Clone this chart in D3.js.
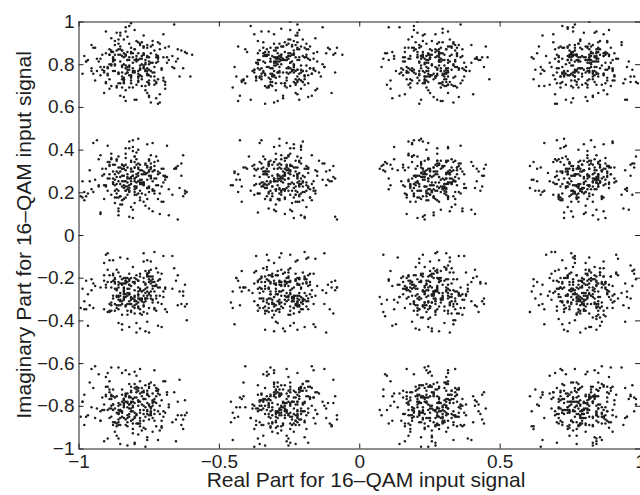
<!DOCTYPE html>
<html>
<head>
<meta charset="utf-8">
<script src="https://cdn.jsdelivr.net/npm/d3@7"></script>
<style>
  body { margin: 0; background: #fff; }
  svg { display: block; }
</style>
</head>
<body>
<svg id="chart" width="640" height="495"></svg>
<script>
// cluster centres of the 16-QAM constellation
var reLevels = [-0.8, -0.265, 0.265, 0.8];   // columns, left to right
var imLevels = [0.8, 0.265, -0.265, -0.8];   // rows, top to bottom

var xTicks = [-1, -0.5, 0, 0.5, 1];
var xTickLabels = ["\u22121", "\u22120.5", "0", "0.5", "1"];
var yTicks = [-1, -0.8, -0.6, -0.4, -0.2, 0, 0.2, 0.4, 0.6, 0.8, 1];
var yTickLabels = ["\u22121", "\u22120.8", "\u22120.6", "\u22120.4", "\u22120.2", "0", "0.2", "0.4", "0.6", "0.8", "1"];

var xLabel = "Real Part for 16\u2013QAM input signal";
var yLabel = "Imaginary Part for 16\u2013QAM input signal";

// received symbols, estimated off the plot, as offsets from the cluster centre:
// 50 = centre, one unit = 0.0064. Values are listed in groups of ten.
var step = 0.0064;

var noiseRe = [
// row 1, col 1
`47 52 36 61 44 58 23 55 41 63 54 38 45 59 72 43 50 67 48 34 41 56 64 49 31 53 28 46 57 37 58 45 33 42 51 76 66 44 39 50
53 46 62 29 44 57 35 48 51 68 42 55 37 49 81 58 63 45 52 36 57 43 26 54 49 65 38 41 56 61 44 59 32 74 52 47 66 40 55 39
38 51 45 67 56 24 43 59 62 47 55 33 48 71 41 53 60 46 36 57 46 62 52 39 27 45 58 63 43 50 35 54 69 42 57 48 78 31 44 51
49 64 53 22 40 57 37 46 55 33 61 44 58 50 39 73 47 52 42 66 52 29 45 36 59 43 63 54 48 34 47 56 41 75 62 53 38 45 57 60
56 41 35 58 47 69 52 26 44 63 43 57 31 48 54 77 61 45 50 38 60 49 54 23 42 36 55 47 67 51 45 39 58 64 43 82 53 34 48 56
42 55 68 37 50 46 28 59 61 44 57 40 46 72 35 53 39 62 48 51 47 33 58 65 44 52 21 49 56 64 53 61 43 37 57 74 46 30 41 55
51 36 44 63 57 42 79 48 55 32 45 58 62 27 50 41 53 39 67 46 59 47 34 52 40 71 56 63 43 38 44 26 55 49 60 54 37 42 58 66`,
// row 1, col 2
`45 59 33 62 48 51 76 40 56 37 53 44 27 58 61 46 50 35 42 64 57 41 66 49 38 52 23 47 55 60 42 54 31 57 68 45 72 49 53 39
50 63 46 38 55 29 41 57 61 44 37 48 52 70 43 59 65 34 46 51 54 62 42 25 58 45 36 50 47 67 61 39 56 43 78 52 48 33 44 57
43 56 68 47 21 54 39 45 52 63 58 34 49 60 55 41 77 46 32 53 47 52 35 64 44 59 28 51 43 62 36 55 42 71 57 48 66 40 54 38
57 42 61 35 46 53 49 26 65 55 44 51 39 57 62 40 36 73 48 56 52 24 47 58 34 61 45 69 53 41 46 60 55 38 43 79 31 50 57 44
39 58 44 51 62 47 22 54 67 41 56 45 63 33 50 42 57 38 75 48 44 53 27 46 60 55 38 64 49 51 59 35 52 43 66 56 45 82 40 37
54 46 37 59 43 65 51 28 48 62 41 57 53 39 47 71 60 44 55 36 63 49 56 42 35 58 29 45 53 61 48 52 74 40 57 34 44 67 51 39
61 47 55 24 43 58 36 52 66 45 35 53 44 68 59 41 57 78 38 49 46 56 63 51 42 37 26 55 48 60 53 42 39 57 47 64 72 45 50 33`,
// row 1, col 3
`56 44 39 62 51 47 25 58 43 66 41 53 67 46 32 55 74 48 59 35 63 49 52 37 45 56 28 40 54 61 47 58 44 36 53 71 60 42 57 33
48 57 64 42 35 53 45 22 59 61 55 38 41 50 68 44 57 79 46 36 42 51 60 56 39 47 26 53 45 64 37 54 49 63 46 58 81 43 55 31
44 61 53 38 46 57 29 65 41 52 59 47 34 54 62 43 51 72 36 48 51 45 66 33 58 42 55 24 47 60 63 40 56 45 37 52 76 49 34 54
53 36 48 60 27 44 56 41 67 55 46 58 63 39 51 42 35 54 78 47 58 43 31 52 46 62 23 57 49 65 42 51 68 34 55 47 73 38 53 44
61 52 45 33 57 49 40 66 26 54 35 44 53 61 47 58 70 42 55 39 47 63 56 41 52 37 21 45 58 64 55 46 32 59 43 57 62 48 77 38
39 55 62 47 53 24 44 58 41 63 52 66 45 37 49 54 75 43 56 34 59 42 48 54 65 38 27 51 45 62 44 57 36 50 61 46 80 53 41 35
47 58 34 51 64 43 28 55 46 60 62 41 53 36 57 45 71 48 33 54 43 56 61 47 39 52 25 58 44 67 50 37 45 63 54 42 74 56 48 31`,
// row 1, col 4
`42 57 61 35 48 53 73 46 55 38 59 44 37 50 66 41 26 54 47 62 51 63 45 56 34 48 79 42 57 39 46 52 68 44 53 31 22 58 41 64
55 46 33 58 62 41 25 49 53 67 44 51 64 39 47 56 72 43 36 58 38 54 47 61 52 43 28 55 45 65 57 40 53 36 49 63 77 45 52 34
47 63 52 44 37 55 80 41 58 34 61 45 39 53 48 66 23 50 56 42 44 57 36 49 62 52 74 46 53 33 51 38 45 60 54 41 27 57 43 67
58 41 46 65 53 36 21 55 44 61 35 56 43 52 67 47 71 59 40 51 53 46 61 38 45 58 26 42 54 63 48 55 32 57 44 69 76 50 41 37
44 54 39 57 63 49 75 52 35 46 56 43 62 47 53 31 24 41 58 64 47 59 45 52 66 37 29 56 43 61 60 48 54 34 42 53 73 45 57 38
53 38 56 42 48 61 27 45 66 55 43 52 34 59 46 63 78 54 40 57 62 45 51 36 57 44 22 49 53 67 35 58 47 55 64 42 71 43 51 39
49 62 44 55 36 53 74 57 41 33 52 40 58 63 47 54 28 45 65 38 56 43 37 48 55 61 76 42 53 64 45 51 66 39 57 43 25 54 46 35`,
// row 2, col 1
`49 53 38 61 44 57 27 50 41 66 58 47 51 35 42 69 74 54 45 39 40 56 63 48 52 33 22 45 59 60 51 44 37 58 48 65 76 53 42 31
55 41 64 48 50 36 78 46 57 39 43 52 30 59 47 61 25 51 44 67 60 49 54 42 38 56 71 45 50 34 47 58 40 53 62 46 21 55 41 68
42 50 59 47 36 63 24 52 45 58 51 46 68 40 57 33 77 49 54 39 48 55 35 50 61 44 29 58 41 64 57 43 52 60 37 49 73 45 51 30
58 45 32 51 48 67 72 43 55 40 46 53 61 49 39 56 20 44 50 65 52 41 47 59 34 62 79 50 43 38 40 57 66 45 53 36 26 48 54 61
47 59 41 63 50 35 23 54 44 56 55 42 37 51 66 48 75 57 40 31 43 50 60 46 58 39 28 52 49 69 61 47 53 38 45 55 77 41 50 34
51 43 67 46 56 38 74 49 53 30 40 58 44 62 50 35 21 47 55 64 59 45 52 33 41 57 27 50 48 63 46 54 36 60 52 43 78 42 57 39
44 56 49 60 38 52 25 45 59 65 53 41 32 57 48 61 76 50 46 37 47 59 63 42 54 36 22 51 40 58 55 48 39 66 43 50 73 56 44 31`,
// row 2, col 2
`46 54 62 39 51 43 78 57 48 33 55 41 37 50 63 47 24 52 58 60 42 57 49 65 44 38 71 53 40 59 50 45 58 36 56 41 26 48 53 67
53 40 47 58 35 61 22 49 56 44 41 55 68 45 52 38 75 50 43 63 59 48 33 54 46 60 27 41 52 37 44 57 62 50 39 53 73 47 58 35
58 46 38 52 43 64 76 50 45 31 47 53 60 41 57 36 20 55 49 66 40 56 51 62 48 33 79 44 59 39 54 42 67 46 50 37 25 57 43 61
43 51 66 48 55 40 23 58 46 62 52 44 35 59 49 63 72 42 50 38 55 47 41 57 60 34 28 50 45 69 48 59 39 53 44 65 77 40 56 36
50 57 34 45 61 47 74 41 53 39 45 49 64 52 38 58 21 47 55 60 51 42 57 33 48 62 26 56 44 40 59 46 52 67 41 36 73 54 50 37
41 52 59 47 37 56 25 50 44 65 58 45 32 54 42 61 78 48 51 39 46 55 63 41 53 38 22 57 49 60 52 40 48 59 66 35 71 43 56 47
56 44 61 40 50 33 77 53 47 58 40 51 47 63 57 39 24 45 52 68 53 48 36 59 41 64 75 50 46 30 47 58 55 42 38 51 29 44 60 62`,
// row 2, col 3
`57 42 50 35 46 64 73 53 48 39 44 58 62 51 40 36 26 55 47 67 50 47 56 41 60 33 77 43 52 38 53 46 39 58 45 61 23 49 57 65
45 53 38 59 50 62 21 41 56 34 58 44 65 47 52 39 76 50 43 60 42 57 49 36 55 63 28 46 51 40 60 48 54 43 37 57 72 45 52 66
52 47 63 44 57 32 78 50 41 59 46 55 37 53 49 68 24 58 44 61 57 40 45 60 51 35 71 48 54 39 41 52 66 47 58 38 25 56 43 62
40 56 48 61 43 37 22 52 59 64 55 47 34 50 63 45 79 42 57 38 47 58 52 39 44 62 27 54 41 67 53 45 60 49 36 56 74 50 46 33
54 41 36 57 48 60 75 46 52 39 43 59 62 44 50 35 20 56 47 65 58 46 41 53 64 38 73 51 45 30 49 55 37 60 42 57 26 44 58 63
48 57 65 42 51 38 28 55 40 61 52 43 39 58 46 66 77 49 54 34 41 50 57 62 47 36 23 53 45 59 56 44 48 35 52 64 71 57 40 60
43 50 59 47 55 33 74 58 45 62 57 46 61 41 37 53 25 44 51 67 50 42 38 56 48 63 78 47 59 36 45 58 54 40 60 49 22 52 43 39`,
// row 2, col 4
`41 55 63 47 52 37 75 50 44 60 56 45 38 59 49 66 22 53 42 34 47 58 51 40 62 35 28 55 48 64 53 43 57 39 50 61 77 46 52 36
58 46 35 53 41 62 24 57 48 39 44 50 67 47 55 38 73 42 59 60 52 41 56 33 47 63 21 50 45 58 40 57 49 65 53 37 76 48 44 61
47 52 61 44 58 36 78 41 55 63 53 48 39 57 42 60 26 50 46 31 43 59 64 49 54 38 72 47 51 37 56 45 34 52 40 66 23 58 49 62
54 42 48 60 37 57 20 53 46 65 41 56 62 44 50 35 79 47 58 38 58 46 39 53 61 43 27 50 55 33 45 51 67 41 56 48 74 44 59 36
43 57 36 50 63 47 71 55 41 59 57 44 51 33 48 62 25 53 46 40 50 42 60 47 38 56 77 45 58 64 52 49 41 57 44 35 22 54 47 68
56 49 64 42 52 38 28 46 58 37 45 53 36 60 41 57 74 50 47 65 54 40 48 61 56 34 20 52 43 59 47 58 55 39 50 63 76 42 51 30
49 53 39 57 45 60 73 41 55 35 52 47 63 43 58 37 26 50 44 67 41 57 50 36 53 64 78 46 59 40 58 43 47 62 55 38 24 52 49 61`,
// row 3, col 1
`50 43 58 36 47 61 24 55 41 63 57 46 39 52 44 66 77 49 54 34 42 53 62 48 56 38 71 45 59 60 54 47 40 57 51 35 26 44 50 67
46 57 35 54 40 62 78 48 52 39 53 41 64 47 58 37 21 55 45 60 59 44 50 33 46 63 27 52 43 57 41 56 49 61 38 53 74 47 58 65
55 42 63 49 57 37 23 44 51 60 43 58 40 55 48 65 72 46 52 31 50 47 36 59 42 61 79 53 45 39 57 44 52 68 47 34 25 56 41 62
41 51 59 45 38 56 76 50 47 64 58 45 33 53 42 60 20 48 55 36 46 57 61 41 54 35 28 50 44 59 52 43 66 48 57 39 73 45 53 40
57 48 39 55 44 63 22 51 42 60 41 53 62 46 57 38 75 50 47 33 55 45 50 64 40 36 24 58 43 67 46 59 37 52 48 61 78 42 56 44
44 56 64 42 50 35 71 47 53 38 52 46 37 59 41 63 26 56 49 60 40 51 56 47 58 33 77 45 52 66 59 43 48 36 55 62 23 50 44 57
53 41 47 60 56 38 79 44 58 65 47 55 61 43 50 34 22 57 42 39 51 48 39 56 45 62 74 41 53 60 43 58 54 67 40 37 27 52 46 55`,
// row 3, col 2
`54 47 37 59 43 62 72 50 45 33 41 56 64 48 53 39 25 58 44 60 57 42 50 36 47 61 78 52 40 55 45 53 48 66 57 35 23 44 51 63
40 52 61 45 57 38 27 54 48 64 58 44 35 51 47 67 74 42 56 39 46 55 59 40 53 33 21 50 43 62 53 47 37 58 41 60 76 49 55 34
51 58 44 62 39 46 79 55 41 36 46 50 60 43 57 32 23 53 48 65 59 41 47 55 63 38 73 45 52 40 42 56 52 37 48 61 26 57 44 68
47 41 55 63 50 36 24 58 45 60 55 48 39 53 42 66 77 47 51 34 43 56 62 49 58 35 28 44 53 39 58 45 50 61 40 57 71 52 46 33
56 44 48 38 53 64 75 41 57 60 42 55 61 47 50 37 20 56 45 67 51 46 35 58 41 62 26 53 48 39 46 59 54 42 57 36 78 49 52 63
43 53 66 50 45 39 22 57 48 61 57 41 37 55 46 63 73 52 43 30 48 58 51 62 44 38 79 40 56 59 52 47 41 57 60 35 25 54 45 64
58 49 40 54 61 43 76 47 52 36 44 57 63 41 53 38 27 51 46 60 55 42 58 35 47 65 72 50 43 39 41 56 47 62 52 37 21 58 45 67`,
// row 3, col 3
`49 51 35 68 42 57 22 50 46 63 58 40 44 52 61 47 76 55 39 31 41 53 64 48 59 30 27 45 50 67 56 43 38 49 52 62 73 44 58 34
52 47 61 39 45 50 78 58 41 36 43 59 54 69 48 33 21 51 46 65 57 42 37 50 49 60 74 53 44 38 40 55 66 47 51 35 25 48 59 62
46 58 32 50 41 64 71 53 49 37 51 44 60 48 56 39 26 42 57 66 38 52 47 55 63 40 29 59 45 61 54 49 36 42 50 67 77 46 53 30
57 40 63 48 52 35 24 44 59 69 47 51 38 42 55 61 72 50 45 34 60 48 53 41 36 58 79 46 51 65 43 56 39 49 54 62 28 41 52 33
42 50 68 45 58 31 75 53 47 60 55 49 34 51 43 66 23 57 40 38 48 54 61 39 46 52 20 41 59 64 51 45 37 57 62 48 76 44 50 35
50 43 36 59 47 62 27 52 41 68 39 58 45 53 64 48 78 42 56 31 53 46 60 44 51 37 73 49 55 33 45 52 65 40 58 38 22 54 47 61
58 47 64 41 52 39 71 45 50 33 44 53 37 59 48 60 25 51 42 67 61 40 49 56 35 54 28 47 52 63 36 57 43 51 45 69 74 48 59 30`,
// row 3, col 4
`47 56 61 38 50 43 28 58 52 65 53 41 36 49 57 68 74 44 59 32 40 55 63 51 45 37 22 48 52 60 58 46 39 54 42 67 77 50 44 35
55 42 34 59 48 62 71 51 46 38 41 57 64 50 44 36 25 53 49 61 59 47 52 31 56 43 79 40 54 66 45 50 60 48 37 53 24 57 42 69
41 53 66 46 58 35 76 49 51 63 57 48 38 52 43 60 20 45 55 34 50 44 62 57 39 47 73 53 41 68 36 56 49 42 59 61 27 52 46 30
59 46 37 51 44 64 23 57 49 60 45 50 69 41 54 33 78 47 52 39 62 51 43 58 36 48 26 55 40 65 53 42 57 46 61 38 72 49 56 31
48 57 63 40 52 36 75 44 59 67 56 43 35 58 49 61 21 51 46 38 42 54 60 47 53 32 77 50 45 64 57 48 39 51 66 44 28 53 41 62
52 44 39 56 61 47 29 50 42 68 47 58 62 45 36 53 74 41 55 33 56 40 49 63 51 37 22 59 46 60 44 51 65 38 57 48 76 43 54 35
43 58 60 49 54 34 73 46 51 37 50 45 38 57 42 66 27 52 48 63 39 53 47 61 56 44 20 58 41 69 55 46 36 50 43 62 78 47 59 32`,
// row 4, col 1
`44 59 62 50 48 35 73 53 41 67 57 46 38 52 43 61 26 55 49 31 48 54 64 40 51 37 21 58 45 60 53 42 36 57 47 66 77 50 44 39
56 41 37 53 49 63 24 58 45 69 42 50 61 47 55 34 79 43 52 38 57 48 33 59 46 62 72 41 54 65 45 51 60 44 58 36 27 49 53 30
49 55 68 42 57 39 76 51 46 32 54 44 36 58 41 64 22 50 47 60 43 56 52 37 63 48 28 55 40 66 58 47 41 52 61 35 74 46 50 38
52 46 34 56 43 60 29 51 48 65 47 57 63 40 53 38 75 44 59 31 55 42 50 61 45 36 20 57 49 67 41 53 59 46 62 37 78 48 54 33
41 58 61 47 50 36 71 45 53 68 59 43 39 55 48 62 23 52 40 34 46 51 63 57 42 35 77 49 56 60 53 44 48 38 59 64 25 41 50 37
57 45 38 51 44 65 26 55 42 61 48 53 60 41 57 33 74 49 46 39 51 40 56 64 47 37 22 58 43 69 44 55 36 52 62 49 76 47 59 31
47 52 63 44 58 34 78 50 41 60 55 45 37 59 49 66 21 53 43 38 42 57 61 48 51 32 73 46 54 65 59 41 50 39 56 63 28 45 52 35`,
// row 4, col 2
`51 44 60 37 55 48 72 42 57 65 45 59 34 53 41 63 27 50 46 38 56 47 68 44 52 39 21 58 41 61 49 53 36 57 43 64 76 47 50 32
43 56 39 58 50 62 25 47 52 36 58 42 65 45 53 31 78 49 55 60 40 51 57 46 37 63 74 44 59 67 54 48 61 41 56 35 23 52 45 38
57 46 63 40 48 35 79 53 44 61 48 54 37 59 42 66 20 51 45 33 53 41 49 62 57 38 28 46 55 64 42 58 52 47 60 36 73 50 43 69
46 52 36 55 61 44 22 58 49 67 53 47 62 40 57 38 77 45 51 34 47 58 33 51 43 60 26 54 40 63 57 41 45 59 50 66 71 48 53 37
52 48 64 43 56 37 75 41 50 60 41 55 39 52 47 68 24 57 46 35 59 44 61 49 53 32 79 45 51 66 45 50 38 56 42 62 27 53 48 36
40 57 50 61 46 34 21 54 47 63 56 43 35 49 59 65 73 51 42 39 48 52 62 41 56 37 28 45 57 60 53 46 67 44 51 38 76 59 41 33
55 42 38 57 48 63 72 46 53 31 44 51 60 45 55 36 25 49 58 68 52 47 39 58 41 64 20 56 43 61 48 57 53 42 50 35 77 45 54 66`,
// row 4, col 3
`48 55 65 42 51 34 24 57 44 62 53 46 38 59 47 61 77 50 43 36 58 41 52 63 45 39 72 49 56 67 44 53 37 51 48 60 26 55 42 33
54 43 36 57 49 64 75 52 45 31 45 58 62 41 55 37 21 50 47 68 51 47 39 56 42 60 28 53 44 65 58 42 63 49 51 38 73 46 57 35
42 57 61 48 53 37 27 55 46 66 57 44 35 52 41 63 78 49 58 30 46 51 64 40 59 36 23 54 43 62 52 48 39 57 45 69 74 41 50 34
56 45 38 51 43 62 76 58 48 33 41 53 66 47 57 35 25 50 44 60 55 42 49 61 52 37 20 46 58 64 48 57 36 43 53 63 77 51 40 39
47 52 63 44 58 36 22 55 41 67 59 48 37 53 45 61 73 42 56 31 43 57 50 62 46 38 79 52 48 60 51 44 65 40 57 35 27 49 54 38
53 46 34 59 42 60 71 47 55 64 46 52 61 43 56 39 26 58 49 36 57 41 38 53 47 66 24 50 45 63 42 55 49 58 61 37 78 44 52 32
45 58 62 41 50 35 75 53 47 68 52 43 36 57 48 64 22 55 41 39 49 56 60 45 53 33 28 42 58 61 56 47 37 52 44 65 72 50 46 34`,
// row 4, col 4
`46 57 39 52 63 44 27 55 48 61 58 42 50 36 47 65 73 53 41 38 43 54 62 49 57 33 78 46 51 66 55 47 35 58 42 60 21 50 45 37
53 45 64 41 50 38 76 57 46 32 47 59 37 52 43 61 24 55 49 68 56 41 51 63 45 36 72 48 54 60 42 55 66 47 58 39 28 44 51 35
58 43 36 55 48 62 20 51 46 67 44 56 61 49 53 34 77 40 57 38 50 47 39 58 42 64 26 53 45 63 57 48 52 41 60 37 74 46 55 31
41 55 63 47 52 35 79 58 43 60 55 48 38 57 41 66 22 50 46 33 47 53 60 44 56 37 75 49 51 65 43 57 36 52 48 61 25 54 40 39
55 42 49 61 44 38 23 57 46 64 48 53 65 43 50 36 78 41 58 31 59 46 37 52 47 60 27 55 42 68 51 44 39 57 63 48 73 45 53 34
44 58 62 40 53 33 71 51 47 66 57 45 36 55 48 60 26 52 43 39 42 56 61 47 51 38 79 44 58 63 49 53 35 46 57 64 22 50 41 37
52 47 38 56 41 65 74 53 49 32 43 55 62 50 46 37 21 58 44 61 56 48 36 59 42 67 27 45 51 60 46 54 63 42 55 38 76 48 57 34`
];

var noiseIm = [
// row 1, col 1
`55 43 61 48 39 27 52 57 44 66 36 50 45 74 58 47 33 53 62 41 64 49 57 31 22 45 54 42 38 59 50 67 44 35 56 48 71 53 60 40
43 58 24 51 65 46 37 54 40 62 52 39 77 45 57 63 48 34 55 41 33 46 55 68 51 44 29 60 47 56 61 53 42 38 73 49 50 36 45 57
57 32 46 53 60 41 25 48 54 67 44 62 56 36 49 51 70 39 43 58 48 55 38 64 43 57 26 52 41 61 35 47 54 63 52 45 80 59 42 37
62 45 51 28 47 56 34 43 69 53 40 57 72 38 55 46 61 49 52 33 54 66 42 37 58 45 23 50 63 48 46 59 31 55 44 78 53 65 41 36
49 53 37 64 58 21 45 61 42 55 59 34 47 60 43 75 52 39 56 48 41 52 27 57 63 46 35 54 67 44 53 38 65 49 57 42 74 36 50 47
36 47 55 59 24 44 62 51 41 68 56 42 33 53 79 48 64 45 57 38 45 61 53 29 50 47 39 66 43 58 52 43 71 46 35 56 60 37 54 44
58 40 63 46 52 32 26 55 47 61 43 54 57 37 82 49 36 51 62 45 60 48 34 56 44 53 22 65 58 41 47 64 39 50 73 42 55 38 45 57`,
// row 1, col 2
`52 38 46 65 57 44 29 61 55 41 47 56 72 39 53 62 44 36 50 43 60 45 53 34 47 25 58 68 41 54 44 51 57 37 63 78 46 52 31 48
48 61 55 42 36 54 23 45 67 59 63 43 51 58 38 47 76 56 41 34 55 49 40 66 52 31 45 57 62 27 37 58 47 53 44 60 71 42 56 35
59 45 33 52 43 62 56 26 47 64 41 54 37 49 74 57 62 45 51 39 44 58 67 53 22 46 36 55 42 61 56 41 48 35 50 79 63 54 33 46
43 57 62 47 35 51 44 81 53 38 58 36 45 65 53 42 28 49 57 60 51 44 34 59 48 63 56 75 40 39 62 24 53 46 41 55 37 58 66 47
55 41 48 57 69 33 21 43 52 64 46 59 52 37 44 61 55 71 40 36 38 50 56 44 62 47 27 53 45 68 53 65 41 46 39 54 57 48 74 32
64 52 39 44 56 27 47 61 53 45 53 40 66 58 34 48 77 45 51 37 47 55 42 63 36 54 58 24 41 60 45 33 59 50 43 62 56 73 38 49
46 54 58 36 41 65 50 23 43 61 57 38 44 52 63 47 75 55 32 49 52 43 37 46 57 68 54 29 61 40 41 56 63 48 55 34 72 44 39 51`,
// row 1, col 3
`57 45 62 34 48 53 77 41 56 38 44 59 36 51 65 47 23 55 42 63 52 40 58 67 46 33 72 45 54 61 38 47 55 43 29 56 62 49 51 35
41 54 37 66 57 44 26 52 48 61 59 46 63 53 35 42 70 55 39 45 46 58 32 55 44 64 21 41 57 53 62 51 47 39 56 73 43 54 36 60
53 62 48 39 45 55 81 43 57 34 37 52 45 60 56 41 28 47 54 68 55 39 47 52 63 43 76 58 31 46 45 57 66 41 50 36 24 53 49 62
46 37 59 54 41 63 25 55 43 57 62 48 53 33 44 56 75 40 51 39 58 61 42 36 53 47 27 56 45 64 41 54 38 52 67 45 72 48 59 35
61 50 43 56 38 47 22 65 54 42 49 57 35 45 62 53 78 44 36 58 43 55 60 39 48 51 74 46 57 33 56 44 52 63 34 41 29 55 47 66
44 58 53 47 66 35 71 51 40 56 55 42 61 38 46 57 23 53 49 34 37 48 56 64 42 54 79 45 59 61 52 36 45 57 43 68 26 50 41 55
56 43 38 62 51 45 28 59 47 54 41 64 55 46 33 52 73 57 44 37 60 47 53 35 56 41 24 49 65 45 48 58 42 54 39 61 77 43 56 36`,
// row 1, col 4
`51 35 58 44 67 45 24 53 41 62 46 57 42 63 55 38 77 48 56 33 59 41 53 66 44 52 21 47 37 60 43 56 48 35 62 54 74 45 51 39
63 47 54 38 43 56 72 41 59 45 55 36 49 52 61 44 26 57 42 65 47 53 34 58 45 62 78 50 39 56 52 41 67 46 57 33 28 55 43 61
45 59 41 52 36 63 29 54 47 58 38 44 57 68 53 46 73 42 55 31 56 48 62 43 51 35 24 57 44 66 41 55 37 60 49 53 76 46 58 34
57 42 66 53 45 34 81 47 55 39 61 50 44 36 56 43 23 58 52 64 43 57 51 38 65 46 72 54 41 59 54 37 46 62 41 55 27 48 56 33
40 56 52 63 47 37 25 59 44 54 53 47 35 58 42 62 75 45 57 36 64 51 45 33 56 48 22 43 55 67 47 58 61 42 53 39 79 52 44 35
55 48 37 56 62 43 71 52 46 64 44 59 53 39 47 57 28 41 63 35 51 42 58 46 36 55 74 49 54 61 38 63 45 57 52 44 26 56 42 66
48 61 53 42 35 57 77 44 56 39 59 45 62 51 43 38 24 54 46 65 45 56 41 64 53 47 73 58 36 52 62 43 55 34 48 57 21 41 53 47`,
// row 2, col 1
`52 46 60 39 57 43 76 48 54 33 45 56 41 64 50 37 23 59 47 68 58 42 51 30 45 62 71 53 40 36 49 55 67 44 52 38 28 46 57 61
41 58 35 53 47 66 24 50 44 62 56 48 69 43 51 34 79 45 58 40 47 54 38 60 42 57 26 52 49 31 60 45 53 36 55 41 74 50 43 64
57 43 50 63 39 48 72 55 46 32 42 51 36 58 45 67 21 53 49 60 51 47 62 40 56 35 78 44 58 39 44 59 31 52 48 65 27 57 41 53
46 55 64 41 52 38 29 49 57 60 59 44 33 50 47 62 73 41 54 37 40 58 48 55 61 36 22 51 45 66 53 42 57 39 50 63 75 47 56 34
50 41 37 56 45 61 77 52 48 35 47 57 63 43 54 39 25 46 51 68 55 44 52 32 49 58 70 42 60 38 41 56 46 65 53 37 23 50 44 59
43 57 52 38 60 47 20 55 41 64 54 46 40 59 50 66 74 48 45 33 48 53 67 44 57 35 28 49 40 62 58 43 36 51 46 60 76 54 52 39
56 48 61 44 35 53 78 41 50 39 41 52 58 47 64 36 26 57 43 55 46 59 34 51 42 63 72 50 55 37 52 44 66 58 38 48 24 45 57 60`,
// row 2, col 2
`48 59 41 55 65 44 22 51 38 57 52 43 61 47 36 54 74 40 56 63 45 50 34 58 42 67 27 53 49 60 57 46 39 52 48 62 76 41 55 33
55 42 63 49 38 53 79 46 57 40 47 56 35 60 44 51 21 52 41 66 50 44 58 39 54 61 73 48 45 32 42 53 68 45 58 37 25 50 47 59
44 57 52 36 48 65 26 41 54 60 59 48 40 53 62 45 72 50 43 34 43 55 60 47 51 38 20 57 46 64 51 41 35 56 45 63 78 49 53 39
52 45 37 58 41 60 75 55 49 33 41 54 66 44 50 39 23 47 57 61 58 49 42 63 46 35 28 52 40 56 46 59 53 38 51 67 71 43 55 48
57 43 49 62 53 35 24 50 46 68 50 58 38 45 61 52 77 42 55 36 40 52 64 57 44 33 73 48 59 47 53 46 41 60 39 55 26 57 44 65
46 50 61 42 57 38 78 53 48 34 55 44 31 59 47 63 22 50 41 56 52 47 57 36 43 60 27 45 54 66 44 58 50 67 53 40 74 48 39 61
51 56 39 48 44 62 21 57 41 60 46 53 64 41 55 37 76 49 58 33 59 42 48 54 35 66 72 50 46 39 48 55 43 57 62 34 29 52 45 58`,
// row 2, col 3
`50 44 58 36 53 61 24 47 55 39 43 57 63 48 41 52 77 45 59 34 55 41 37 50 46 66 29 58 44 60 47 53 61 43 56 38 72 51 49 62
59 47 39 56 44 60 75 50 42 35 52 41 55 62 47 37 22 57 48 68 44 56 64 41 53 33 78 50 45 58 54 43 38 59 49 63 26 46 52 40
45 53 62 48 57 36 21 54 41 64 58 46 33 51 43 61 73 49 56 39 40 52 55 47 60 38 27 57 44 67 51 47 63 55 42 35 76 50 46 58
53 40 47 59 38 62 79 45 56 34 46 54 66 42 50 39 25 58 44 60 57 49 41 53 64 36 72 43 51 48 43 57 52 37 45 61 23 55 40 68
42 58 55 44 61 37 27 52 48 63 55 45 38 57 49 65 74 41 53 31 48 51 59 62 43 35 20 56 46 40 59 44 50 36 54 60 77 47 53 41
56 43 39 52 47 66 73 50 45 37 44 59 61 46 54 34 28 52 40 57 53 47 36 58 42 63 76 49 55 60 46 51 64 41 57 38 24 44 50 62
48 55 63 40 51 36 26 57 43 60 51 42 37 55 46 62 71 48 59 33 45 58 52 39 56 67 23 41 50 44 57 46 40 60 53 35 78 54 47 63`,
// row 2, col 4
`53 47 59 39 45 62 27 51 56 35 46 58 40 54 63 42 76 49 52 37 57 43 36 50 48 66 21 55 41 60 44 52 64 57 38 47 73 50 45 61
48 56 41 60 51 36 78 44 53 65 55 42 62 48 37 57 24 50 46 33 43 59 49 56 40 61 70 47 54 38 58 45 36 52 63 41 26 57 49 60
57 41 52 35 58 47 23 54 45 62 42 50 67 46 55 38 75 53 48 39 52 47 59 43 61 34 28 57 40 55 46 56 39 64 50 44 77 41 53 60
45 53 63 50 41 56 72 47 59 37 58 46 35 55 49 61 22 43 52 66 40 56 48 62 53 38 79 45 51 33 55 43 59 47 36 52 25 58 44 64
51 58 38 44 55 60 26 42 49 63 47 52 57 41 63 36 74 50 45 30 56 44 65 50 38 53 20 58 47 61 43 57 51 39 46 62 78 53 48 35
42 55 47 61 53 39 76 57 44 34 53 45 60 37 50 64 27 41 56 59 48 59 42 55 46 36 73 51 43 67 57 40 54 62 49 38 21 46 52 60
56 44 50 63 40 57 25 49 53 36 44 58 39 52 47 65 71 55 41 62 51 46 61 35 58 43 29 47 56 38 49 53 46 57 42 60 75 44 59 33`,
// row 3, col 1
`46 55 61 41 52 38 25 57 44 64 53 47 36 59 42 60 76 50 45 33 58 42 49 63 55 35 21 47 52 40 44 56 37 50 48 66 73 41 57 59
55 41 38 57 49 63 78 44 51 36 40 52 60 46 57 34 27 53 48 65 47 58 56 39 43 61 72 50 44 37 57 45 51 62 41 38 24 55 49 68
42 57 50 36 58 45 20 52 47 61 59 46 39 54 41 67 74 48 53 33 51 43 62 47 56 37 29 45 58 60 45 53 48 58 35 63 77 40 52 40
58 47 64 43 50 39 73 55 41 60 45 51 35 57 48 62 23 43 59 38 54 40 46 61 52 34 79 57 45 66 41 58 56 37 47 53 26 50 44 63
49 53 37 59 44 61 28 41 56 35 57 45 63 50 38 55 71 46 52 67 43 59 52 36 48 64 22 53 40 57 56 42 47 60 54 39 75 45 51 33
53 45 59 40 57 35 76 49 44 62 44 58 41 53 66 47 25 51 56 39 50 46 38 62 43 55 20 58 47 60 47 52 63 45 59 36 73 42 54 37
41 56 48 63 51 37 24 54 45 58 55 43 62 47 36 59 78 50 41 34 58 47 40 53 61 44 27 46 52 65 52 40 57 38 45 60 72 56 49 43`,
// row 3, col 2
`45 58 52 37 61 43 78 55 48 64 56 41 47 63 50 36 22 53 44 39 42 53 60 45 57 38 75 49 51 33 58 46 54 40 48 66 26 43 57 60
53 46 39 57 44 61 24 50 42 67 47 55 62 40 52 35 71 58 49 37 57 43 50 64 41 59 27 46 53 36 40 58 45 53 63 38 76 51 44 60
41 57 61 48 53 34 73 45 56 39 58 44 36 55 49 60 25 42 51 65 46 52 57 38 62 43 20 55 47 59 54 48 41 66 45 57 79 50 40 33
56 43 50 62 47 37 21 53 58 60 42 57 65 45 54 39 77 48 41 34 53 46 39 57 42 63 74 51 55 36 47 51 60 43 56 35 28 44 59 68
49 55 37 53 41 64 72 46 57 38 55 47 61 42 58 36 24 50 45 60 40 59 52 47 65 33 78 54 43 62 52 43 56 39 49 58 23 57 45 37
44 58 63 41 52 36 26 56 47 61 51 45 38 57 43 62 75 49 54 31 58 42 55 60 46 39 21 50 53 66 43 55 48 64 57 35 73 41 52 40
57 41 46 59 55 38 77 52 44 63 45 53 60 48 37 56 22 43 58 67 50 46 41 54 61 34 27 57 49 40 56 44 52 38 47 62 74 45 59 35`,
// row 3, col 3
`53 41 60 48 37 51 77 45 58 34 46 55 68 40 52 39 24 57 49 62 50 44 33 59 48 65 72 42 54 38 61 47 52 36 45 57 21 50 43 66
45 59 38 51 64 42 26 53 48 60 57 41 50 35 47 63 75 44 52 31 42 56 61 49 39 52 78 46 58 67 37 51 45 58 62 40 29 54 47 33
60 48 52 34 43 57 23 41 55 69 51 46 39 58 42 65 71 50 44 36 47 53 30 45 59 62 26 51 40 64 55 42 48 61 37 50 76 43 56 39
41 55 66 47 50 38 79 52 44 31 63 49 54 43 35 57 22 46 51 60 56 40 45 53 67 39 73 48 58 34 50 44 59 37 48 62 27 55 42 65
52 46 35 59 61 43 74 50 47 68 44 57 48 32 53 40 28 55 63 38 59 41 51 64 46 36 20 49 54 60 42 53 67 45 39 56 77 47 51 33
48 58 62 42 51 37 25 54 45 64 55 43 36 50 60 47 72 41 57 39 44 52 57 46 34 63 78 50 40 61 58 47 41 53 66 38 23 49 55 35
57 42 49 61 45 53 76 40 51 36 48 59 65 44 38 50 21 56 46 62 53 45 37 58 60 41 29 52 47 68 43 54 50 39 57 64 75 46 59 31`,
// row 3, col 4
`58 45 33 52 47 64 26 50 41 61 44 53 60 48 57 39 77 46 51 67 55 42 38 59 49 63 71 43 54 36 40 57 52 46 62 35 24 51 48 65
49 55 62 43 51 37 79 46 58 32 57 40 48 53 36 61 22 55 44 68 42 50 59 47 64 38 25 52 45 60 53 46 34 57 41 63 74 49 56 39
54 41 36 58 45 60 23 51 47 66 46 57 63 42 53 35 76 48 50 38 59 44 52 61 40 37 28 56 43 64 47 52 68 49 55 31 72 41 58 33
42 56 64 48 53 39 75 50 45 30 55 47 37 51 43 62 21 58 49 66 48 53 60 44 57 36 78 41 52 34 56 40 45 59 50 65 27 54 46 61
51 46 38 57 62 43 20 55 48 67 43 58 61 50 47 34 73 52 41 39 57 45 49 63 54 36 29 46 51 60 40 53 66 42 59 37 75 48 56 32
46 52 60 41 55 35 77 49 57 63 58 44 39 53 48 66 24 50 42 31 45 56 62 47 41 38 71 53 59 64 52 47 36 55 44 61 26 57 43 69
56 43 49 60 46 33 28 54 41 65 47 55 62 44 51 37 74 42 58 39 50 48 35 56 62 45 22 59 43 67 41 52 57 63 47 38 79 46 53 30`,
// row 4, col 1
`50 43 61 56 39 47 24 53 45 68 46 58 35 51 63 42 76 49 55 30 57 41 52 60 44 37 72 48 53 64 42 55 38 59 47 62 27 51 46 33
43 57 36 49 65 52 78 41 55 61 58 45 62 50 38 46 22 53 42 34 49 52 60 44 57 39 25 46 51 67 55 40 48 63 53 35 73 58 44 31
58 47 52 38 43 64 21 56 49 60 41 55 66 47 50 36 75 44 53 32 53 42 37 58 46 61 79 50 45 68 47 51 57 40 54 39 26 43 59 63
46 54 63 41 57 33 74 52 48 37 55 49 39 56 44 62 28 47 51 69 42 58 50 45 61 36 23 55 40 60 57 43 64 51 47 38 77 49 53 35
52 41 38 57 45 60 26 50 47 66 44 56 63 42 53 35 71 48 58 31 59 46 51 64 40 37 20 54 43 62 49 53 36 45 58 67 78 41 55 39
47 59 62 43 52 34 77 55 41 65 56 48 37 50 44 61 24 53 46 38 45 51 60 57 49 32 73 42 58 63 51 44 39 54 47 68 29 57 40 36
54 45 36 59 48 61 25 51 43 64 42 53 68 46 57 39 76 50 45 33 56 47 40 52 63 35 22 59 44 60 48 55 62 41 53 37 74 46 50 66`,
// row 4, col 2
`45 58 52 36 61 47 77 54 41 63 55 42 64 48 37 51 23 57 46 30 49 53 39 59 44 67 26 50 45 60 57 41 48 62 52 38 74 43 56 35
56 43 61 47 52 39 21 55 48 68 41 57 36 53 46 62 78 50 44 33 58 45 52 64 40 37 72 47 53 60 44 51 65 49 57 34 28 42 59 38
48 54 35 58 43 60 76 52 46 67 53 47 63 41 56 38 24 59 50 32 42 55 49 61 47 36 79 51 44 64 59 46 40 53 57 66 22 48 52 37
52 47 64 44 50 37 27 57 41 62 46 55 39 51 58 33 75 43 54 69 55 40 47 57 62 36 20 52 49 61 41 53 58 45 50 38 73 56 46 65
43 59 37 52 47 66 71 49 55 31 57 45 60 42 53 35 26 50 48 63 46 53 64 51 40 38 77 56 44 60 52 48 36 58 43 67 23 45 54 39
57 42 50 63 45 36 25 53 47 68 44 56 38 48 52 61 79 41 59 34 51 46 65 43 57 37 22 54 49 62 48 55 33 50 41 60 74 46 53 36
50 46 62 41 56 35 73 58 43 64 53 49 37 57 44 66 28 51 45 31 42 56 53 60 47 39 21 48 55 63 57 43 46 52 61 36 76 50 44 67`,
// row 4, col 3
`57 44 50 63 46 37 72 53 41 60 43 56 66 49 52 35 25 58 47 38 51 45 39 55 42 62 78 48 57 64 47 58 61 40 53 36 23 50 44 68
46 52 37 59 41 65 28 55 48 62 56 43 60 47 51 33 74 42 57 38 43 58 53 64 49 36 21 51 45 67 50 47 39 54 58 61 77 44 53 35
52 48 63 43 57 39 76 50 45 31 47 55 36 51 42 60 24 58 49 66 56 41 49 61 54 37 73 46 52 63 44 57 65 48 50 34 26 53 42 38
41 56 39 53 47 62 20 57 44 68 58 45 61 49 55 35 79 43 52 37 47 53 66 42 50 38 27 55 48 60 53 40 36 57 46 64 71 51 45 33
55 47 62 41 53 36 74 49 58 65 42 56 38 50 46 63 22 54 45 31 59 43 52 60 48 37 75 41 56 67 46 51 64 45 57 39 28 52 43 35
48 53 35 58 44 61 25 56 42 63 53 41 67 46 57 38 73 50 48 32 44 58 50 62 41 36 20 55 47 66 57 45 39 52 49 60 76 43 54 37
51 46 64 43 55 34 77 58 47 60 45 57 37 53 42 62 27 51 49 39 52 44 59 65 48 36 72 46 55 63 43 56 48 38 57 61 24 54 41 33`,
// row 4, col 4
`50 44 61 47 56 38 25 53 42 64 45 57 36 52 49 62 78 41 55 33 58 47 51 60 43 37 22 56 46 67 44 53 39 57 48 63 74 50 42 35
57 46 38 55 42 61 71 49 53 66 42 51 64 47 58 35 27 54 45 39 46 55 36 50 62 44 76 57 41 60 53 48 65 41 56 37 23 47 52 31
44 53 63 40 57 36 28 51 48 60 56 47 39 58 43 65 73 50 45 32 41 57 52 61 46 38 20 55 49 64 59 43 37 54 47 66 77 42 53 36
53 49 35 57 46 62 75 44 51 67 47 56 60 42 54 38 24 59 43 33 55 41 48 63 52 36 79 46 57 61 42 50 64 47 55 39 26 53 45 37
47 55 62 43 50 34 21 58 46 65 53 44 37 56 49 61 72 41 55 38 48 52 66 45 58 35 28 42 51 60 56 47 39 53 43 63 77 50 46 31
55 42 37 59 47 60 78 52 44 64 44 57 63 41 53 36 25 56 48 39 51 46 34 58 42 62 73 47 55 67 48 53 60 44 57 38 22 45 59 35
42 56 64 48 51 36 76 55 45 61 57 46 38 53 41 67 23 49 52 33 45 54 60 42 57 37 27 51 48 63 53 41 36 58 46 62 74 44 56 39`
];

// ---- decode symbols ----
// within each group of ten, the n-th group of imaginary values is read starting n places in,
// so that the two lists line up without a repeating pattern
var points = [];
noiseRe.forEach(function(s, k) {
  var cRe = reLevels[k % 4],
      cIm = imLevels[Math.floor(k / 4)];
  var re = s.trim().split(/\s+/).map(Number),
      im = noiseIm[k].trim().split(/\s+/).map(Number);
  var n = Math.min(re.length, im.length);
  for (var i = 0; i < n; i++) {
    var g = Math.floor(i / 10),
        j = g * 10 + (i % 10 + g) % 10;
    points.push({ re: cRe + (re[i] - 50) * step, im: cIm + (im[j] - 50) * step });
  }
});

// ---- layout ----
var svg = d3.select("#chart");
var font = "'Liberation Sans', Arial, Helvetica, sans-serif";
var ink = "#1e1e1e";

var x = d3.scaleLinear().domain([-1, 1]).range([78.5, 640]);
var y = d3.scaleLinear().domain([-1, 1]).range([448.5, 21.5]);

svg.append("defs").append("clipPath").attr("id", "plot-clip")
  .append("rect")
    .attr("x", x(-1)).attr("y", y(1))
    .attr("width", x(1) - x(-1)).attr("height", y(-1) - y(1));

// points
svg.append("g")
  .attr("clip-path", "url(#plot-clip)")
  .selectAll("circle")
  .data(points)
  .join("circle")
    .attr("cx", d => x(d.re))
    .attr("cy", d => y(d.im))
    .attr("r", 1.25)
    .attr("fill", ink);

// axes, MATLAB style: box with inward ticks
function label(vals, labels) {
  return function(d) { return labels[vals.indexOf(d)]; };
}

function styleAxis(g) {
  g.attr("color", ink)
   .attr("font-family", font)
   .attr("font-size", 19);
  g.selectAll(".domain").attr("stroke-width", 1);
  g.selectAll(".tick line").attr("stroke-width", 1);
}

svg.append("g")
  .attr("transform", "translate(0," + y(-1) + ")")
  .call(d3.axisBottom(x).tickValues(xTicks).tickFormat(label(xTicks, xTickLabels))
    .tickSizeInner(-5).tickSizeOuter(0).tickPadding(6.5))
  .call(styleAxis);

svg.append("g")
  .attr("transform", "translate(0," + y(1) + ")")
  .call(d3.axisTop(x).tickValues(xTicks).tickFormat("")
    .tickSizeInner(-5).tickSizeOuter(0))
  .call(styleAxis);

svg.append("g")
  .attr("transform", "translate(" + x(-1) + ",0)")
  .call(d3.axisLeft(y).tickValues(yTicks).tickFormat(label(yTicks, yTickLabels))
    .tickSizeInner(-5).tickSizeOuter(0).tickPadding(4))
  .call(styleAxis);

svg.append("g")
  .attr("transform", "translate(" + x(1) + ",0)")
  .call(d3.axisRight(y).tickValues(yTicks).tickFormat("")
    .tickSizeInner(-5).tickSizeOuter(0))
  .call(styleAxis);

// axis titles
svg.append("text")
  .attr("x", 366)
  .attr("y", 487)
  .attr("text-anchor", "middle")
  .attr("font-family", font)
  .attr("font-size", 21)
  .attr("fill", ink)
  .text(xLabel);

svg.append("text")
  .attr("transform", "translate(31," + y(0) + ") rotate(-90)")
  .attr("text-anchor", "middle")
  .attr("font-family", font)
  .attr("font-size", 21)
  .attr("fill", ink)
  .text(yLabel);
</script>
</body>
</html>
